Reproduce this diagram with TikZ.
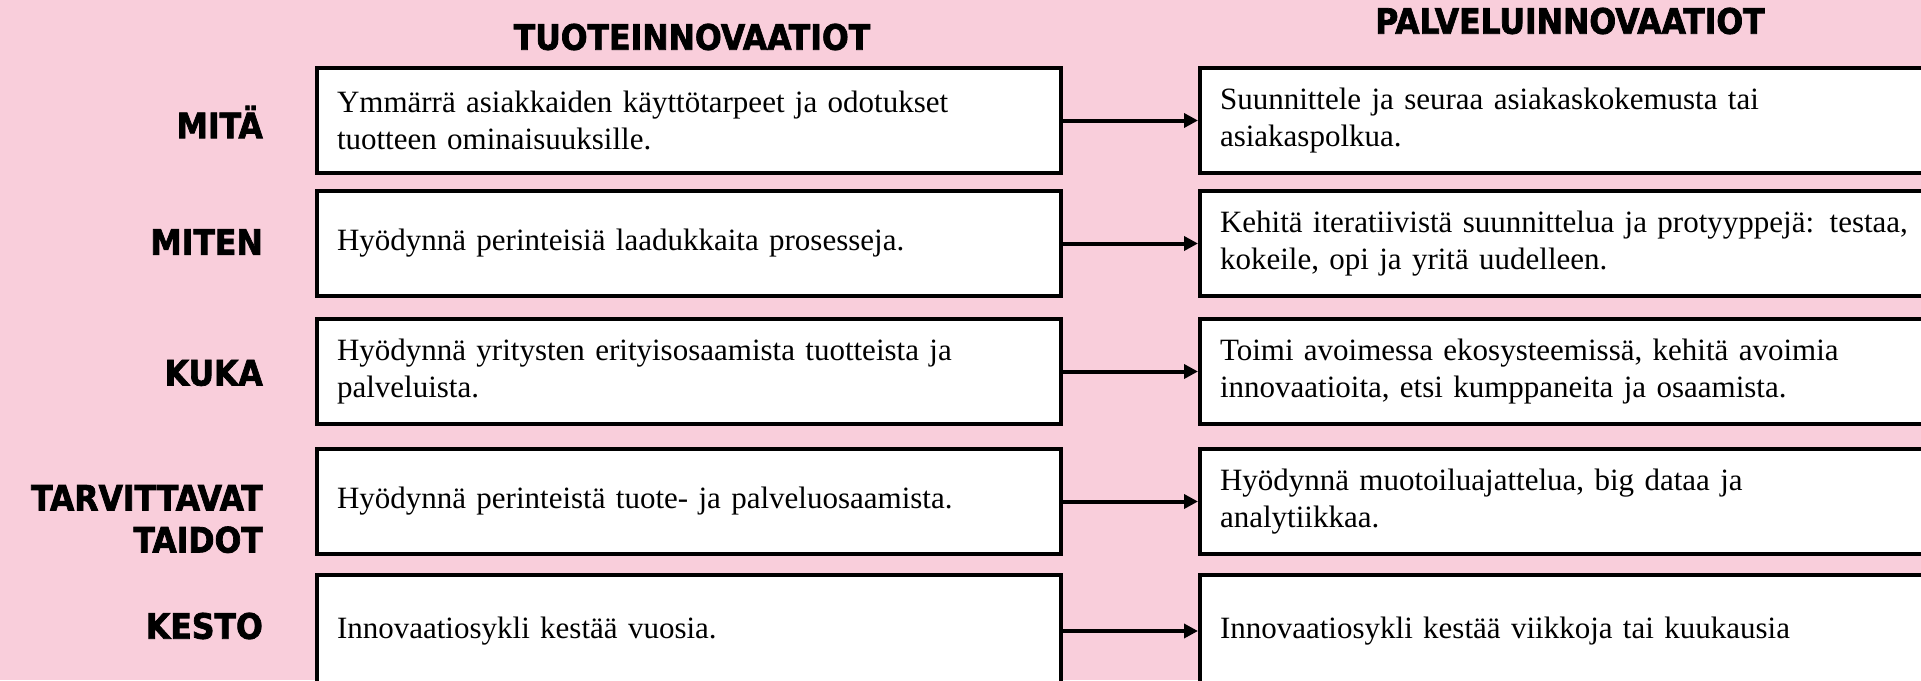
\documentclass[tikz,border=0pt]{standalone}
\usepackage{fontspec}
\setmainfont{Liberation Serif}
\newfontfamily\headfont{DejaVu Sans Condensed Bold}[FakeBold=2]
\usetikzlibrary{arrows.meta}
\definecolor{bgpink}{RGB}{249,206,219}
\tikzset{
  lbox/.style={draw=black, line width=4pt, fill=white, anchor=north west,
    minimum width=744pt, minimum height=105pt, text width=704pt, inner xsep=20pt,
    align=left, font=\fontsize{31}{37}\selectfont},
  rbox/.style={lbox, minimum width=800pt, text width=760pt},
  rowlabel/.style={anchor=east, align=right, inner sep=0pt,
    font=\headfont\fontsize{35}{42}\selectfont},
  colhead/.style={inner sep=0pt, font=\headfont\fontsize{35}{42}\selectfont},
  conn/.style={line width=4pt, -{Triangle[length=14pt,width=14pt]}}
}
\begin{document}
\begin{tikzpicture}[x=1pt,y=-1pt]
\useasboundingbox (0,0) rectangle (1921,680);
\clip (0,0) rectangle (1921,680);
\fill[bgpink] (0,0) rectangle (1921,680);

\node[colhead] (h1) at (692,37) {TUOTEINNOVAATIOT};
\node[colhead] (h2) at (1570,21) {PALVELUINNOVAATIOT};

\node[lbox] (l1) at (315,66) {Ymmärrä asiakkaiden käyttötarpeet ja odotukset\\tuotteen ominaisuuksille.};
\node[rbox] (r1) at (1198,66) {Suunnittele ja seuraa asiakaskokemusta tai\\asiakaspolkua.};
\node[lbox] (l2) at (315,189) {Hyödynnä perinteisiä laadukkaita prosesseja.};
\node[rbox] (r2) at (1198,189) {Kehitä iteratiivistä suunnittelua ja protyyppejä: testaa,\\kokeile, opi ja yritä uudelleen.};
\node[lbox] (l3) at (315,317) {Hyödynnä yritysten erityisosaamista tuotteista ja\\palveluista.};
\node[rbox] (r3) at (1198,317) {Toimi avoimessa ekosysteemissä, kehitä avoimia\\innovaatioita, etsi kumppaneita ja osaamista.};
\node[lbox] (l4) at (315,447) {Hyödynnä perinteistä tuote- ja palveluosaamista.};
\node[rbox] (r4) at (1198,447) {Hyödynnä muotoiluajattelua, big dataa ja\\analytiikkaa.};
\node[lbox, minimum height=112pt] (l5) at (315,573) {Innovaatiosykli kestää vuosia.};
\node[rbox, minimum height=112pt] (r5) at (1198,573) {Innovaatiosykli kestää viikkoja tai kuukausia};

\node[rowlabel] (m1) at (263,122) {MITÄ};
\node[rowlabel] (m2) at (263,242) {MITEN};
\node[rowlabel] (m3) at (263,373) {KUKA};
\node[rowlabel] (m4) at (263,519) {TARVITTAVAT\\TAIDOT};
\node[rowlabel] (m5) at (263,626) {KESTO};

\foreach \i in {1,...,5} {\draw[conn] (l\i.east) -- (r\i.west);}
\end{tikzpicture}
\end{document}
